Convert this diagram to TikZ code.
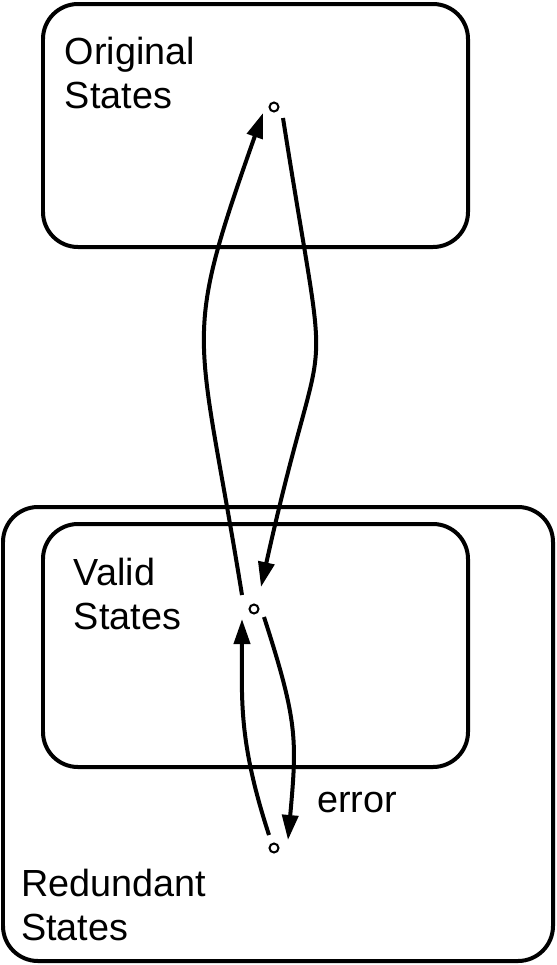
\documentclass[tikz,border=0pt]{standalone}
\usepackage{fontspec}
\setmainfont{Liberation Sans}
\usetikzlibrary{arrows.meta}

\begin{document}
\begin{tikzpicture}[x=0.02cm,y=-0.02cm,line width=0.08cm,
    >={Triangle[length=0.5cm,width=0.32cm]},
    region/.style={rounded corners=0.7cm},
    dot/.style={circle,draw,line width=0.04cm,inner sep=0pt,minimum size=0.18cm},
    lbl/.style={align=left,anchor=north west,inner sep=0pt,
                font=\fontsize{21.5}{24.9}\selectfont}]

  \useasboundingbox (0,0) rectangle (556,965);

  % the regions
  \draw[region] (43,4) rectangle (468,247);
  \draw[region] (3,507) rectangle (553,961);
  \draw[region] (43,524) rectangle (468,767);

  \node[lbl] (origtext) at (63,35) {Original\\States};
  \node[lbl] (validtext) at (72,556) {Valid\\States};
  \node[lbl] (redtext) at (19,867) {Redundant\\States};

  % the states
  \node[dot] (o) at (274,107) {};
  \node[dot] (v) at (254,609) {};
  \node[dot] (b) at (274,848) {};

  \draw[->] ([shift={(-12,-14)}]v.center) .. controls (198,323) and (180,348) .. ([shift={(-11,6)}]o.center);
  \draw[->] ([shift={(9,11)}]o.center) .. controls (332,430) and (327,289) .. ([shift={(7,-22)}]v.center);
  \draw[->] ([shift={(-5,-13)}]b.center) .. controls (238,740) and (242,699) .. ([shift={(-12,10)}]v.center);
  \draw[->] ([shift={(10,8)}]v.center) .. controls (298,722) and (297,740)
    .. node[pos=0.86,anchor=west,inner sep=0pt,xshift=0.48cm,
            font=\fontsize{21.5}{24.9}\selectfont] (err) {error}
    ([shift={(14,-8)}]b.center);
\end{tikzpicture}
\end{document}
